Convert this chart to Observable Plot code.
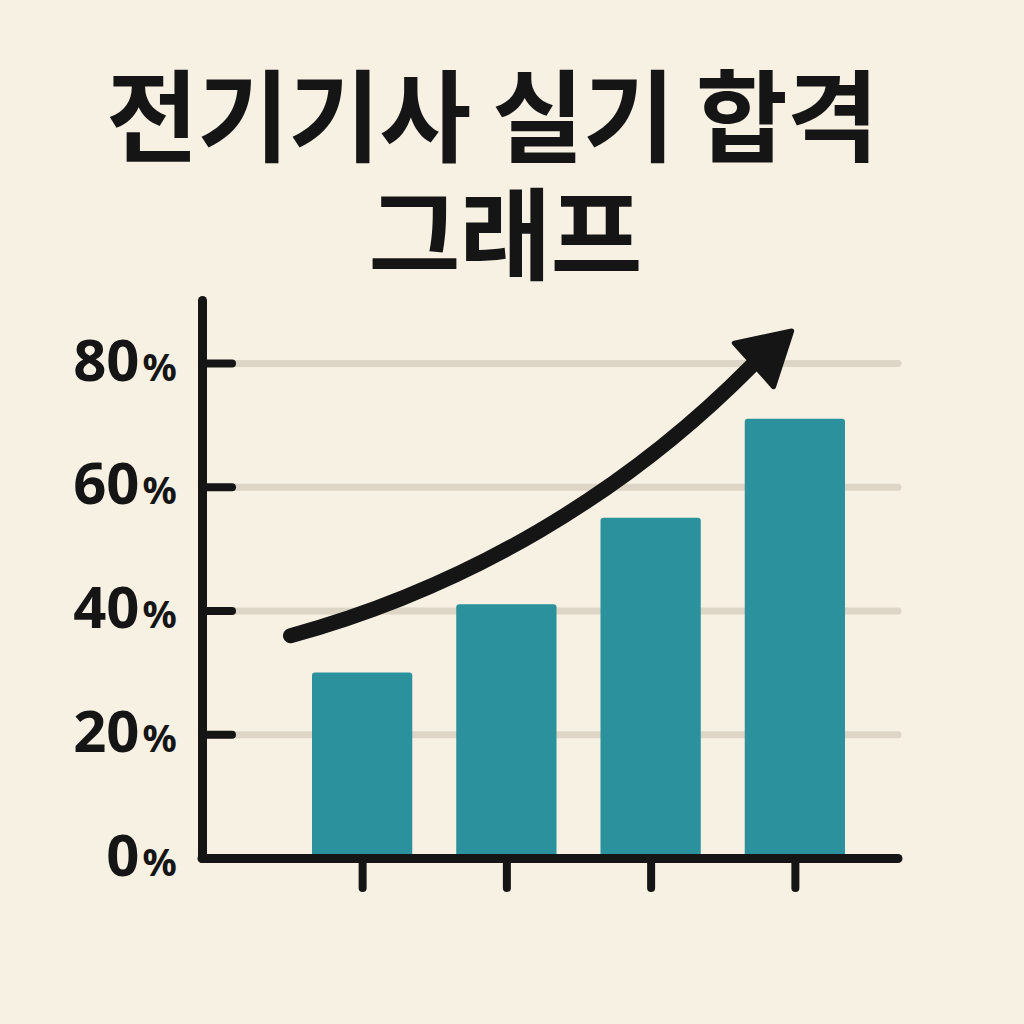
<!DOCTYPE html>
<html><head><meta charset="utf-8">
<script src="https://cdn.jsdelivr.net/npm/d3@7"></script>
<script src="https://cdn.jsdelivr.net/npm/@observablehq/plot@0.6"></script>
<style>
html,body{margin:0;padding:0;background:#f7f1e4;}
#title{height:296px;box-sizing:border-box;padding-top:52px;text-align:center;font-family:"Noto Sans CJK KR";font-weight:700;font-size:100px;letter-spacing:-1px;color:#151515;}
#title div{height:118px;line-height:118px;white-space:nowrap;position:relative;}
#title .l1{left:-20px;}
#title .l2{left:-7px;}
#chart svg{display:block;}
</style></head><body>
<div id="title"><div class="l1">전기기사 실기 합격</div><div class="l2">그래프</div></div>
<div id="chart"></div>
<script>
// data
const sessions = ["1회", "2회", "3회", "4회"];
const passRates = [30, 41, 55, 71];
const yTicks = [0, 20, 40, 60, 80];
const trendStart = {x: 1, y: 36};
const trendEnd = {x: 4.2, y: 79.7};
const trendHead = {x: 4.3, y: 81.6};

const bars = sessions.map((s, i) => ({session: s, pos: i + 1, rate: passRates[i]}));
const ink = "#151515";

const chart = Plot.plot({
  width: 1024,
  height: 728,
  marginLeft: 202,
  marginRight: 126,
  marginTop: 4,
  marginBottom: 166,
  style: {background: "transparent", overflow: "visible"},
  x: {domain: [1, 5], range: [290, 867], axis: null},
  y: {domain: [0, 80], range: [562, 67], axis: null},
  marks: [
    Plot.gridY(yTicks.slice(1), {stroke: "#ddd5c5", strokeOpacity: 1, strokeWidth: 7, strokeLinecap: "round"}),
    Plot.rectY(bars, {x1: "pos", x2: d => d.pos + 1, y: "rate", insetLeft: 22, insetRight: 22, fill: "#2b919d", rx: 3}),
    Plot.axisY(yTicks.slice(1), {tickSize: -30, tickFormat: () => "", stroke: ink, strokeWidth: 8, strokeLinecap: "round"}),
    Plot.axisX(bars.map(d => d.pos + 0.5), {tickSize: 30, tickFormat: () => "", stroke: ink, strokeWidth: 8, strokeLinecap: "round"}),
    Plot.ruleY([0], {stroke: ink, strokeWidth: 9, strokeLinecap: "round"}),
    Plot.frame({anchor: "left", stroke: ink, strokeWidth: 9, strokeLinecap: "round"}),
    Plot.arrow([{a: trendStart, b: trendEnd}], {
      x1: d => d.a.x, y1: d => d.a.y, x2: d => d.b.x, y2: d => d.b.y,
      bend: -15, headLength: 0, stroke: ink, strokeWidth: 15, strokeLinecap: "round"
    }),
    Plot.dot([trendHead], {x: "x", y: "y", symbol: "triangle2", r: 28, fill: ink, stroke: ink, strokeWidth: 5, strokeLinejoin: "round", rotate: 48}),
    Plot.text(yTicks, {y: d => d, text: d => String(d), frameAnchor: "left", textAnchor: "end", dx: -63, lineAnchor: "bottom", dy: 17, fontSize: 58, fontWeight: 700, fontFamily: "Noto Sans", letterSpacing: -1, fill: ink}),
    Plot.text(yTicks, {y: d => d, text: () => "%", frameAnchor: "left", textAnchor: "start", dx: -60, lineAnchor: "bottom", dy: 17, fontSize: 38, fontWeight: 700, fontFamily: "Noto Sans", fill: ink})
  ]
});
document.getElementById("chart").appendChild(chart);
</script>
</body></html>
